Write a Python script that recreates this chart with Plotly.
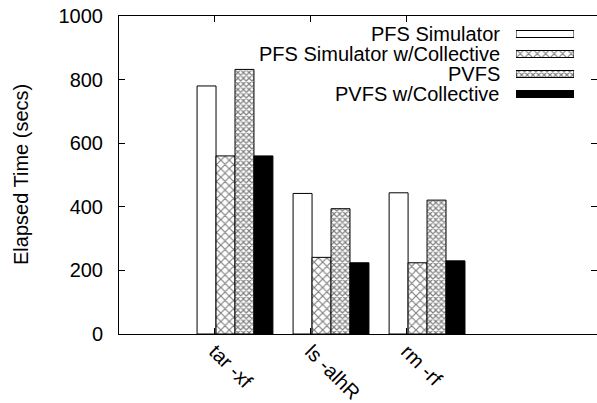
import plotly.graph_objects as go

categories = ["tar -xf", "ls -alhR", "rm -rf"]
series_names = ["PFS Simulator", "PFS Simulator w/Collective", "PVFS", "PVFS w/Collective"]
pfs_sim = [780, 442, 444]
pfs_sim_coll = [560, 241, 224]
pvfs = [832, 394, 421]
pvfs_coll = [560, 224, 230]
y_ticks = [0, 200, 400, 600, 800, 1000]

series_values = [pfs_sim, pfs_sim_coll, pvfs, pvfs_coll]
styles = [
    dict(color="white"),
    dict(color="white", pattern=dict(shape="x", fgcolor="black", bgcolor="white", size=6, solidity=0.35)),
    dict(color="white", pattern=dict(shape="x", fgcolor="black", bgcolor="white", size=4, solidity=0.5)),
    dict(color="black"),
]

FONT = "Liberation Sans, Arial, Helvetica, sans-serif"
W, H = 597, 403
L, R, T, B = 119, 0, 16, 69
plot_w = W - L - R
plot_h = H - T - B

def px_to_paper_x(px):
    return (px - L) / plot_w

def px_to_paper_y(py):
    return (H - B - py) / plot_h

fig = go.Figure()
groups = list(range(len(categories)))
for name, vals, st in zip(series_names, series_values, styles):
    fig.add_trace(go.Bar(
        x=groups, y=vals, name=name,
        marker=dict(line=dict(color="black", width=1), **st),
        showlegend=False,
    ))

# custom legend swatches (text left, key right) on an overlay axis
for i, (name, st) in enumerate(zip(series_names, styles)):
    fig.add_trace(go.Bar(
        x=[1], y=[i], base=[0], orientation="h", width=0.35,
        marker=dict(line=dict(color="black", width=1), **st),
        xaxis="x2", yaxis="y2", showlegend=False, hoverinfo="skip",
    ))
    fig.add_annotation(
        x=px_to_paper_x(502), xref="paper", xanchor="right",
        y=i, yref="y2", yanchor="middle",
        text=name, showarrow=False,
        font=dict(family=FONT, size=20, color="black"),
    )

# y-axis title
fig.add_annotation(
    x=px_to_paper_x(21), xref="paper", xanchor="center",
    y=0.5, yref="paper", yanchor="middle",
    text="Elapsed Time (secs)", textangle=-90, showarrow=False,
    font=dict(family=FONT, size=20, color="black"),
)

tick_offset = -0.21
fig.update_layout(
    width=W, height=H,
    margin=dict(l=L, r=R, t=T, b=B, pad=0),
    paper_bgcolor="white", plot_bgcolor="white",
    font=dict(family=FONT, size=20, color="black"),
    barmode="group", bargap=0.21, bargroupgap=0,
    xaxis=dict(
        range=[-1.208, 3.77], automargin=False,
        tickvals=[g + tick_offset for g in groups], ticktext=categories,
        tickangle=45, ticks="inside", ticklen=6, tickcolor="black",
        showline=True, linecolor="black", linewidth=1, mirror="ticks",
        showgrid=False, zeroline=False,
        ticklabelstandoff=-3,
        tickfont=dict(family=FONT, size=20, color="black"),
    ),
    yaxis=dict(
        range=[0, 1000], tickvals=y_ticks, automargin=False,
        ticks="inside", ticklen=6, tickcolor="black",
        showline=True, linecolor="black", linewidth=1, mirror="ticks",
        showgrid=False, zeroline=False,
        ticklabelstandoff=11,
        tickfont=dict(family=FONT, size=20, color="black"),
    ),
    xaxis2=dict(
        domain=[px_to_paper_x(516), px_to_paper_x(574)], range=[0, 1],
        anchor="y2", showgrid=False, zeroline=False, showticklabels=False,
        showline=False, ticks="", fixedrange=True, automargin=False,
    ),
    yaxis2=dict(
        domain=[px_to_paper_y(104), px_to_paper_y(24)], range=[3.5, -0.5],
        anchor="x2", showgrid=False, zeroline=False, showticklabels=False,
        showline=False, ticks="", fixedrange=True, automargin=False,
    ),
)

fig.write_html("out.html")
